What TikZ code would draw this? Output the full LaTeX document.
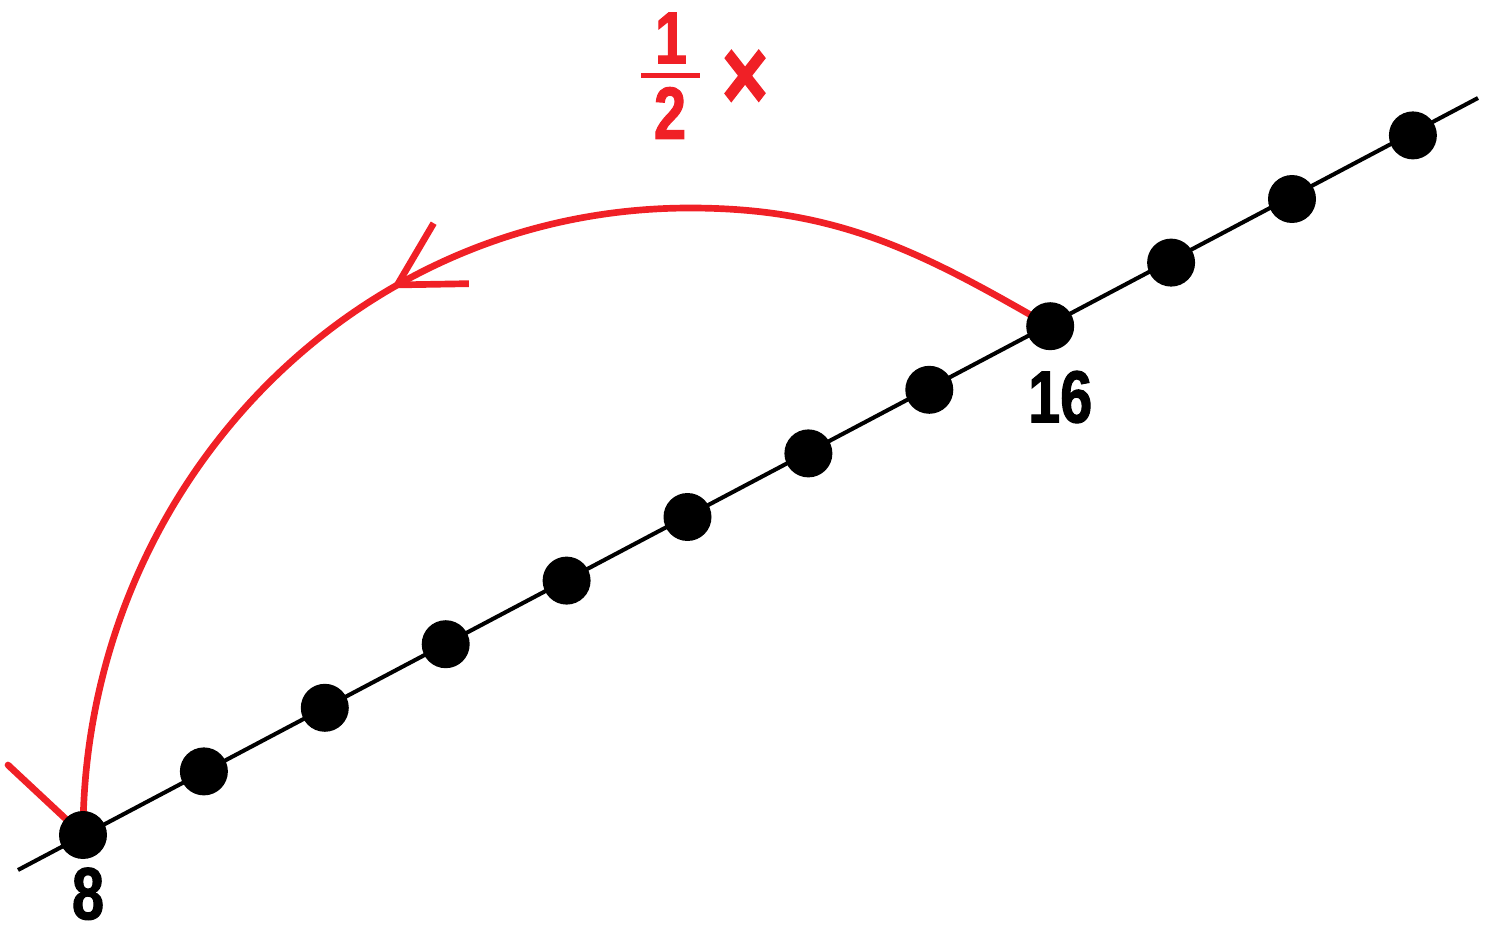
\documentclass[tikz,border=0pt]{standalone}
\usepackage{fontspec}
\newfontfamily\numfont[FakeStretch=0.78,FakeBold=1.5]{Liberation Sans}
\usetikzlibrary{positioning,arrows.meta,decorations.markings}
\definecolor{jumpred}{RGB}{240,32,38}

\begin{document}
\begin{tikzpicture}[x=0.02cm,y=-0.02cm,
          axis/.style={line width=2.3pt,black},
          jump/.style={line width=3.8pt,jumpred,line cap=round},
          pt/.style={circle,fill=black,minimum size=0.96cm,inner sep=0pt},
          lbl/.style={font=\numfont\bfseries\fontsize{42}{46}\selectfont,inner sep=0pt}]
        \useasboundingbox (0,0) rectangle (1492,926);
        % points on the number line
        \foreach \i in {0,...,11}
          \coordinate (p\i) at ({83+120.9*\i},{835-63.6*\i});
        \coordinate (lstart) at (18,870);
        \coordinate (lend) at (1478,98);
        \coordinate (top) at (690,208);
        \coordinate (lin) at (8,765);
        \draw[axis] (lstart) -- (lend);
        % the halving jump
        \draw[jump,postaction={decorate},decoration={markings,
            mark=at position 0.515 with {\arrow{Straight Barb[length=1.25cm,width=1.4cm]}}}]
          (p8) to[out=150,in=0] (top) to[out=180,in=90] (p0);
        \draw[jump] (lin) -- (p0);
        \foreach \i in {0,...,11}
          \node[pt] (d\i) at (p\i) {};
        \node[lbl] (l8) [below=0.16cm of d0,xshift=0.1cm] {8};
        \node[lbl] (l16) [below=0.4cm of d8,xshift=0.2cm] {16};
        % factor
        \node[lbl,text=jumpred] (num) at (671,38) {1};
        \node[lbl,text=jumpred] (den) at (670,113) {2};
        \coordinate (barl) at (641,76);
        \coordinate (barr) at (700,76);
        \draw[jumpred,line width=0.1cm] (barl) -- (barr);
        \node[lbl,text=jumpred,font=\numfont\bfseries\fontsize{58}{60}\selectfont] (times) at (745,80) {×};
      \end{tikzpicture}
\end{document}
